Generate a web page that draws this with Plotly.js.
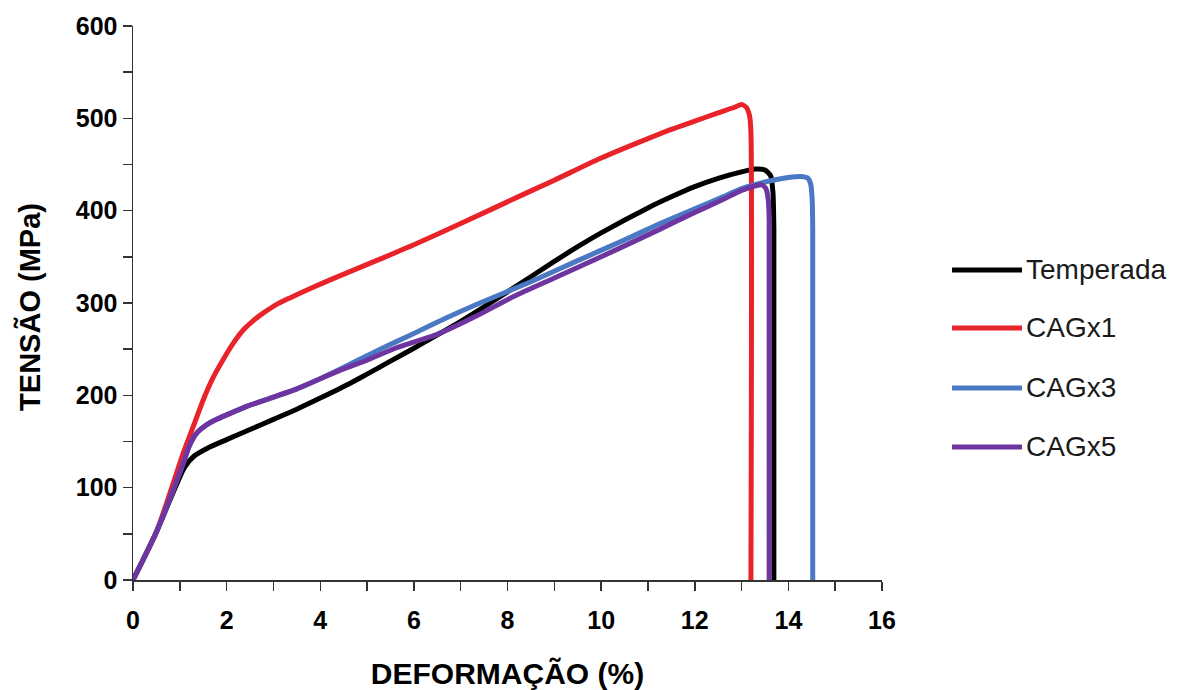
<!DOCTYPE html>
<html>
<head>
<meta charset="utf-8">
<script src="https://cdn.plot.ly/plotly-3.0.1.min.js"></script>
<style>html,body{margin:0;padding:0;background:#fff;}#chart{width:1185px;height:690px;}</style>
</head>
<body>
<div id="chart"></div>
<script>
// Series names
const seriesNames = ["Temperada", "CAGx1", "CAGx3", "CAGx5"];
const seriesColors = ["#000000", "#e8232a", "#4a78c2", "#6e35a0"];

// Temperada
const tempX = [0,0.5,0.9,1.1,1.3,1.6,2.0,2.5,3.0,3.5,4.0,4.6,5.0,5.5,6.0,7.0,8.0,9.0,9.5,10.0,11.0,11.5,12.0,12.5,13.0,13.3,13.5,13.62,13.67,13.69,13.69];
const tempY = [0,52,100,122,134,143,152,163,174,185,197,212,223,237,251,280,312,345,361,376,403,415,426,435,442,445,444,438,420,380,0];

// CAGx1
const c1X = [0,0.5,1.07,1.3,1.5,1.7,1.93,2.15,2.36,2.57,2.78,3.05,3.35,3.8,4.21,5.3,6.0,7.0,8.27,9.0,10.0,11.0,11.5,12.0,12.5,12.85,13.0,13.1,13.17,13.2,13.2];
const c1Y = [0,52,137,168,195,218,239,257,271,281,289,298,305.5,316,325,348,363,386,416,433,457,478,488,497,506,512,515,512,503,485,0];

// CAGx3
const c3X = [0,0.5,1.07,1.2,1.36,1.57,1.79,2.1,2.43,3.0,3.5,4.0,4.57,5.0,5.28,6.0,6.7,7.41,8.5,9.55,10.4,11.26,12.0,12.6,13.0,13.5,14.0,14.28,14.42,14.48,14.51,14.52,14.52];
const c3Y = [0,52,126,145,159,168,174,181,188,198,207,218,232,243,250,267,284,300,323,347,366,386,402,415,424,431,436,437,435,428,410,380,0];

// CAGx5
const c5X = [0,0.5,1.07,1.2,1.36,1.57,1.79,2.1,2.43,3.0,3.5,4.0,4.57,5.0,5.6,6.5,7.3,8.13,9.0,10.0,11.26,12.0,12.6,13.0,13.3,13.43,13.52,13.57,13.59,13.59];
const c5Y = [0,52,126,145,159,168,174,181,188,198,207,218,230,238,251,266,285,307,327,350,380,398,412,422,427,428,424,412,390,0];

// Axis ticks
const xTickVals = [0,2,4,6,8,10,12,14,16];
const xTickText = ["0","2","4","6","8","10","12","14","16"];
const yTickVals = [0,100,200,300,400,500,600];
const yTickText = ["0","100","200","300","400","500","600"];
const yTitle = "TENSÃO (MPa)";
const xTitle = "DEFORMAÇÃO (%)";

const xs = [tempX, c1X, c3X, c5X];
const ys = [tempY, c1Y, c3Y, c5Y];

const FONT = "'Liberation Sans', Arial, sans-serif";

const traces = xs.map((x, i) => ({
  x: x, y: ys[i], type: 'scatter', mode: 'lines', name: seriesNames[i],
  line: {color: seriesColors[i], width: 5, shape: 'spline', smoothing: 0.6}, showlegend: false, hoverinfo: 'skip'
}));

// custom legend
const legY = [0.5596, 0.4549, 0.3466, 0.2401];
const shapes = seriesNames.map((n, i) => ({
  type: 'line', xref: 'paper', yref: 'paper', x0: 1.0935, x1: 1.1869, y0: legY[i], y1: legY[i],
  line: {color: seriesColors[i], width: 5}
}));
const annotations = seriesNames.map((n, i) => ({
  text: n, xref: 'paper', yref: 'paper', x: 1.1895, y: legY[i], xanchor: 'left', yanchor: 'middle',
  showarrow: false, font: {family: FONT, size: 28, color: '#1a1a1a'}
}));
// y-axis title
annotations.push({
  text: '<b>' + yTitle + '</b>', xref: 'paper', yref: 'paper', x: -0.1375, y: 0.493,
  xanchor: 'center', yanchor: 'middle', textangle: -90, showarrow: false,
  font: {family: FONT, size: 29, color: '#000000'}
});

const layout = {
  width: 1185, height: 690,
  margin: {l: 133, r: 303, t: 26, b: 110},
  paper_bgcolor: '#ffffff', plot_bgcolor: '#ffffff',
  showlegend: false,
  xaxis: {
    range: [0, 16], tickvals: xTickVals, ticktext: xTickText,
    ticks: 'outside', ticklen: 9, tickwidth: 1.5, tickcolor: '#333333',
    showline: true, linecolor: '#333333', linewidth: 1.5,
    showgrid: false, zeroline: false, ticklabelstandoff: 8,
    minor: {dtick: 1, ticks: 'outside', ticklen: 9, tickwidth: 1.5, tickcolor: '#333333', showgrid: false},
    tickfont: {family: FONT, size: 25, color: '#000000', weight: 'bold'},
    title: {text: '<b>' + xTitle + '</b>', font: {family: FONT, size: 30, color: '#000000'}, standoff: 30}
  },
  yaxis: {
    range: [0, 600], tickvals: yTickVals, ticktext: yTickText,
    ticks: 'outside', ticklen: 9, tickwidth: 1.5, tickcolor: '#333333',
    showline: true, linecolor: '#333333', linewidth: 1.5,
    showgrid: false, zeroline: false,
    minor: {dtick: 50, ticks: 'outside', ticklen: 9, tickwidth: 1.5, tickcolor: '#333333', showgrid: false},
    tickfont: {family: FONT, size: 25, color: '#000000', weight: 'bold'}
  },
  shapes: shapes,
  annotations: annotations
};

Plotly.newPlot('chart', traces, layout, {staticPlot: true, displayModeBar: false});
</script>
</body>
</html>
